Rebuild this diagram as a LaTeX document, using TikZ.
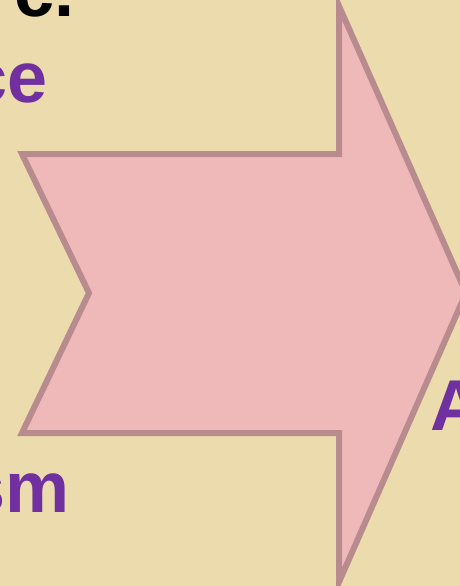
\documentclass[tikz,border=0pt]{standalone}
\usepackage{fontspec}
\setmainfont{Liberation Sans}
\definecolor{parch}{RGB}{236,220,173}
\definecolor{arrowfill}{RGB}{240,185,185}
\definecolor{arrowline}{RGB}{184,139,143}
\definecolor{txtP}{RGB}{112,48,160}

\begin{document}
\begin{tikzpicture}[x=1pt,y=-1pt,
  word/.style={font=\fontsize{72}{80}\selectfont\bfseries,inner sep=0pt}]
\useasboundingbox (0,0) rectangle (460,586);
\clip (0,0) rectangle (460,586);
\fill[parch] (0,0) rectangle (460,586);
% text left and right of the arrow
\node[word,anchor=base east] (wc) at (75,17) {c.};
\node[word,txtP,anchor=base east] (wce) at (48,102) {ce};
\node[word,txtP,anchor=base east] (wsm) at (70,512) {sm};
\node[word,txtP,anchor=base west] (wa) at (430,430) {A};
% notched arrow
\draw[fill=arrowfill,draw=arrowline,line width=6pt,line join=miter]
  (22,154) -- (339,154) -- (339,6) -- (466,293) -- (339,582) -- (339,433)
  -- (22,433) -- (89,293) -- cycle;
\end{tikzpicture}
\end{document}
